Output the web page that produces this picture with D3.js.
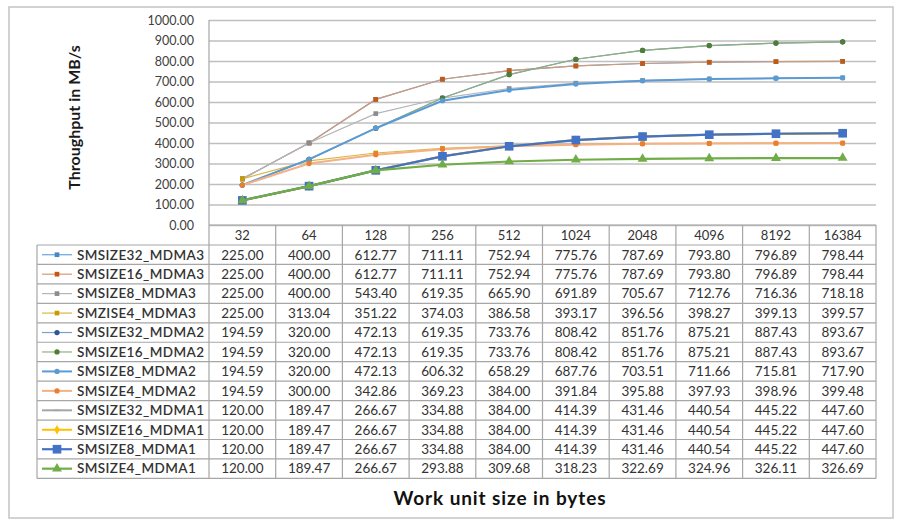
<!DOCTYPE html>
<html>
<head>
<meta charset="utf-8">
<script src="https://cdn.jsdelivr.net/npm/d3@7"></script>
<style>
body { margin: 0; background: #fff; }
text { font-family: Lato, "Open Sans", sans-serif; }
</style>
</head>
<body>
<svg id="chart" width="900" height="526"></svg>
<script>
var categories = ["32", "64", "128", "256", "512", "1024", "2048", "4096", "8192", "16384"]

var series_names = [
	"SMSIZE32_MDMA3", "SMSIZE16_MDMA3", "SMSIZE8_MDMA3", "SMZISE4_MDMA3",
	"SMSIZE32_MDMA2", "SMSIZE16_MDMA2", "SMSIZE8_MDMA2", "SMSIZE4_MDMA2",
	"SMSIZE32_MDMA1", "SMSIZE16_MDMA1", "SMSIZE8_MDMA1", "SMSIZE4_MDMA1"
]

var series_values = [
	[225.00, 400.00, 612.77, 711.11, 752.94, 775.76, 787.69, 793.80, 796.89, 798.44],
	[225.00, 400.00, 612.77, 711.11, 752.94, 775.76, 787.69, 793.80, 796.89, 798.44],
	[225.00, 400.00, 543.40, 619.35, 665.90, 691.89, 705.67, 712.76, 716.36, 718.18],
	[225.00, 313.04, 351.22, 374.03, 386.58, 393.17, 396.56, 398.27, 399.13, 399.57],
	[194.59, 320.00, 472.13, 619.35, 733.76, 808.42, 851.76, 875.21, 887.43, 893.67],
	[194.59, 320.00, 472.13, 619.35, 733.76, 808.42, 851.76, 875.21, 887.43, 893.67],
	[194.59, 320.00, 472.13, 606.32, 658.29, 687.76, 703.51, 711.66, 715.81, 717.90],
	[194.59, 300.00, 342.86, 369.23, 384.00, 391.84, 395.88, 397.93, 398.96, 399.48],
	[120.00, 189.47, 266.67, 334.88, 384.00, 414.39, 431.46, 440.54, 445.22, 447.60],
	[120.00, 189.47, 266.67, 334.88, 384.00, 414.39, 431.46, 440.54, 445.22, 447.60],
	[120.00, 189.47, 266.67, 334.88, 384.00, 414.39, 431.46, 440.54, 445.22, 447.60],
	[120.00, 189.47, 266.67, 293.88, 309.68, 318.23, 322.69, 324.96, 326.11, 326.69]
]

var y_ticks = [0, 100, 200, 300, 400, 500, 600, 700, 800, 900, 1000]

// look of each series: line colour, marker colour, marker type, line width, marker size
var series_styles = [
	{line: "#6aa5db", mark: "#4a86c5", shape: "square",   width: 1.2, size: 22},
	{line: "#d39a78", mark: "#c65911", shape: "square",   width: 1.2, size: 22},
	{line: "#b5b5b5", mark: "#8c8c8c", shape: "square",   width: 1.2, size: 22},
	{line: "#dcb648", mark: "#c89c00", shape: "square",   width: 1.2, size: 22},
	{line: "#7f9cd0", mark: "#2f5597", shape: "circle",   width: 1.2, size: 22},
	{line: "#8db07a", mark: "#4e7f31", shape: "circle",   width: 1.2, size: 22},
	{line: "#5b9bd5", mark: "#5b9bd5", shape: "circle",   width: 2,   size: 22},
	{line: "#f4b183", mark: "#ed7d31", shape: "circle",   width: 2,   size: 22},
	{line: "#a5a5a5", mark: "#a5a5a5", shape: "dash",     width: 2,   size: 22},
	{line: "#ffc000", mark: "#ffc000", shape: "diamond",  width: 2,   size: 26},
	{line: "#4472c4", mark: "#4472c4", shape: "square",   width: 2.2, size: 75},
	{line: "#70ad47", mark: "#70ad47", shape: "triangle", width: 2.2, size: 42}
]

var svg = d3.select("#chart")

var plot_left = 209, plot_right = 876, plot_top = 20, plot_bottom = 225,
    table_left = 37, header_bottom = 245, row_h = 19.45,
    table_bottom = header_bottom + row_h * series_names.length

var x_scale = d3.scaleBand().domain(categories).range([plot_left, plot_right]),
    y_scale = d3.scaleLinear().domain([0, 1000]).range([plot_bottom, plot_top]),
    fmt = d3.format(".2f")

var shape_of = {
	square: d3.symbolSquare, circle: d3.symbolCircle,
	diamond: d3.symbolDiamond, triangle: d3.symbolTriangle
}

// outer frame
svg.append("rect")
   .attr("x", 9).attr("y", 7).attr("width", 884).attr("height", 511)
   .attr("fill", "#fff").attr("stroke", "#c4c4c4").attr("stroke-width", 1.5)

// y axis + grid
var y_axis = svg.append("g")
   .attr("transform", "translate(" + plot_left + ",0)")
   .call(d3.axisLeft(y_scale).tickValues(y_ticks).tickFormat(fmt)
           .tickSize(-(plot_right - plot_left)).tickPadding(15))
y_axis.select(".domain").remove()
y_axis.selectAll(".tick line").attr("stroke", "#bfbfbf").attr("stroke-width", 1.3)
y_axis.selectAll(".tick text")
      .attr("fill", "#404040").style("font-size", "12.5px").style("font-family", "Lato, sans-serif")

svg.append("line")
   .attr("x1", plot_left).attr("x2", plot_left).attr("y1", plot_top).attr("y2", table_bottom)
   .attr("stroke", "#a6a6a6").attr("stroke-width", 1.2)

svg.append("text")
   .attr("transform", "translate(80," + ((plot_top + plot_bottom) / 2 - 5) + ") rotate(-90)")
   .attr("text-anchor", "middle")
   .style("font-size", "16px").style("font-weight", "bold").attr("fill", "#1a1a1a")
   .text("Throughput in MB/s")

// data table grid
var grid = svg.append("g").attr("stroke", "#a6a6a6").attr("stroke-width", 1.2)
categories.forEach((c, i)=>{
	var x = x_scale(c) + x_scale.bandwidth()
	grid.append("line").attr("x1", x).attr("x2", x).attr("y1", plot_bottom).attr("y2", table_bottom)
})
grid.append("line").attr("x1", table_left).attr("x2", table_left).attr("y1", header_bottom).attr("y2", table_bottom)
d3.range(series_names.length + 1).forEach(i=>{
	var y = header_bottom + i * row_h
	grid.append("line").attr("x1", table_left).attr("x2", plot_right).attr("y1", y).attr("y2", y)
})
grid.append("line").attr("x1", plot_left).attr("x2", plot_right).attr("y1", plot_bottom).attr("y2", plot_bottom)

svg.selectAll(".cat-label")
   .data(categories)
   .enter()
   .append("text")
   .attr("class", "cat-label")
   .attr("x", d=>x_scale(d) + x_scale.bandwidth() / 2)
   .attr("y", plot_bottom + 15)
   .attr("text-anchor", "middle")
   .style("font-size", "13px").attr("fill", "#333")
   .text(d=>d)

// rows of the table with legend keys
var rows = svg.selectAll(".row")
   .data(series_names)
   .enter()
   .append("g")
   .attr("class", "row")
   .attr("transform", (d, i)=>"translate(0," + (header_bottom + i * row_h + row_h / 2) + ")")

rows.append("line")
    .attr("x1", 42).attr("x2", 72)
    .attr("stroke", (d, i)=>series_styles[i].line)
    .attr("stroke-width", (d, i)=>series_styles[i].width)

rows.append("text")
    .attr("x", 77).attr("y", 4.8)
    .style("font-size", "13.5px").style("font-weight", "600").attr("fill", "#333")
    .style("letter-spacing", "0.4px")
    .text(d=>d)

rows.selectAll(".val")
    .data((d, i)=>series_values[i])
    .enter()
    .append("text")
    .attr("class", "val")
    .attr("x", (v, j)=>x_scale(categories[j]) + x_scale.bandwidth() / 2)
    .attr("y", 4.8)
    .attr("text-anchor", "middle")
    .style("font-size", "13.5px").attr("fill", "#333")
    .text(v=>fmt(v))

// lines and markers
var line_gen = d3.line()
	.x((v, j)=>x_scale(categories[j]) + x_scale.bandwidth() / 2)
	.y(v=>y_scale(v))

function draw_marker (g, st, x, y) {
	if (st.shape == "dash") {
		g.append("line").attr("x1", x - 3.5).attr("x2", x + 3.5).attr("y1", y).attr("y2", y)
		 .attr("stroke", st.mark).attr("stroke-width", 1.5)
	} else {
		g.append("path")
		 .attr("d", d3.symbol().type(shape_of[st.shape]).size(st.size)())
		 .attr("transform", "translate(" + x + "," + y + ")")
		 .attr("fill", st.mark)
	}
}

var marks = svg.append("g")
series_values.forEach((vals, i)=>{
	var st = series_styles[i]
	var g = marks.append("g").attr("class", "series series-" + i)
	g.append("path")
	 .attr("d", line_gen(vals))
	 .attr("fill", "none")
	 .attr("stroke", st.line)
	 .attr("stroke-width", st.width)
	vals.forEach((v, j)=>{
		draw_marker(g, st, x_scale(categories[j]) + x_scale.bandwidth() / 2, y_scale(v))
	})
	var key = d3.select(rows.nodes()[i])
	draw_marker(key, st, 57, 0)
})

svg.append("text")
   .attr("x", 500).attr("y", 505)
   .attr("text-anchor", "middle")
   .style("font-size", "19px").style("font-weight", "bold").style("letter-spacing", "0.9px")
   .attr("fill", "#111")
   .text("Work unit size in bytes")
</script>
</body>
</html>
